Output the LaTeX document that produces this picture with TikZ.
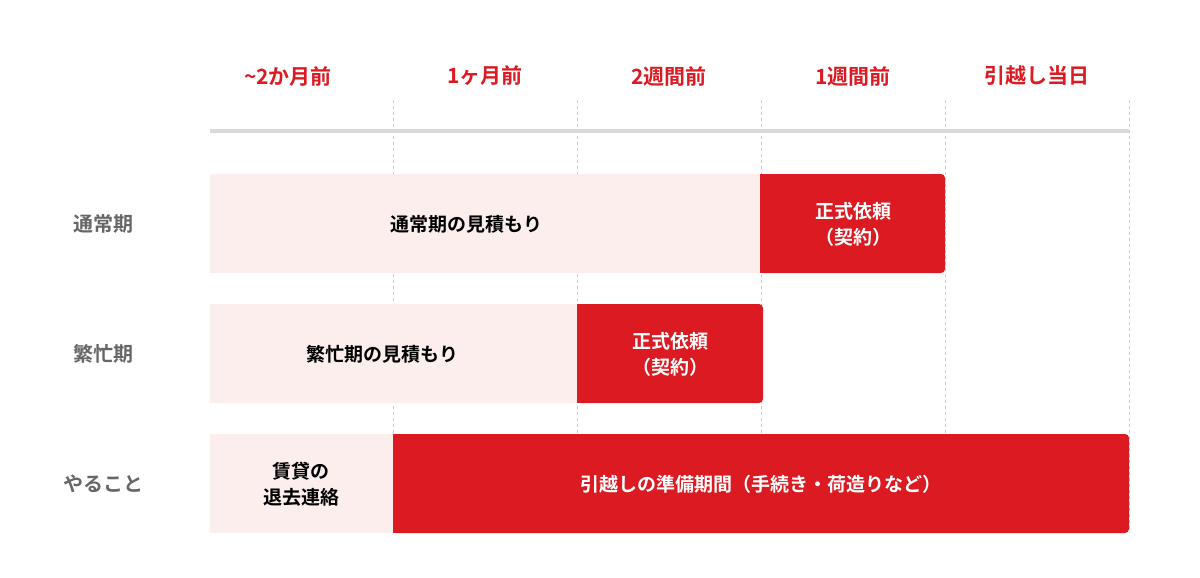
\documentclass[tikz,border=0pt]{standalone}
\usepackage{fontspec}
\setmainfont{Noto Sans CJK JP}[BoldFont={Noto Sans CJK JP Bold}]
\definecolor{myred}{HTML}{DC1A22}
\definecolor{mypink}{HTML}{FDEEEE}
\definecolor{mygray}{HTML}{666666}
\begin{document}
\begin{tikzpicture}[x=1pt,y=-1pt,
  hdr/.style={text=myred,font=\bfseries\fontsize{21}{24}\selectfont},
  rowlab/.style={text=mygray,font=\bfseries\fontsize{20}{24}\selectfont},
  txt/.style={font=\bfseries\fontsize{19}{26}\selectfont,align=center},
  grid/.style={gray!40,dashed,line width=0.8pt}]
\useasboundingbox (0,0) rectangle (1200,578);
\foreach \x in {393,577,761,945,1129} \draw[grid] (\x,100) -- (\x,533);
\draw[line width=4pt,gray!30] (210,131) -- (1129,131);
\node[hdr] (h1) at (288,76) {\textasciitilde 2か月前};
\node[hdr] (h2) at (485,76) {1ヶ月前};
\node[hdr] (h3) at (669,76) {2週間前};
\node[hdr] (h4) at (853,76) {1週間前};
\node[hdr] (h5) at (1037,76) {引越し当日};
% row 1
\fill[mypink] (210,174) rectangle (760,273);
\fill[myred,rounded corners=4pt] (760,174) rectangle (945,273);
\fill[myred] (760,174) rectangle (770,273);
\node[rowlab] (r1) at (103,224) {通常期};
\node[txt] (a1) at (466,224) {通常期の見積もり};
\node[txt,text=white] (b1) at (853,224) {正式依頼\\（契約）};
% row 2
\fill[mypink] (210,304) rectangle (577,403);
\fill[myred,rounded corners=4pt] (577,304) rectangle (763,403);
\fill[myred] (577,304) rectangle (587,403);
\node[rowlab] (r2) at (103,354) {繁忙期};
\node[txt] (a2) at (382,354) {繁忙期の見積もり};
\node[txt,text=white] (b2) at (670,354) {正式依頼\\（契約）};
% row 3
\fill[mypink] (210,434) rectangle (393,533);
\fill[myred,rounded corners=4pt] (393,434) rectangle (1129,533);
\fill[myred] (393,434) rectangle (403,533);
\node[rowlab] (r3) at (103,484) {やること};
\node[txt] (a3) at (301,484) {賃貸の\\退去連絡};
\node[txt,text=white] (b3) at (761,484) {引越しの準備期間（手続き・荷造りなど）};
\end{tikzpicture}
\end{document}
